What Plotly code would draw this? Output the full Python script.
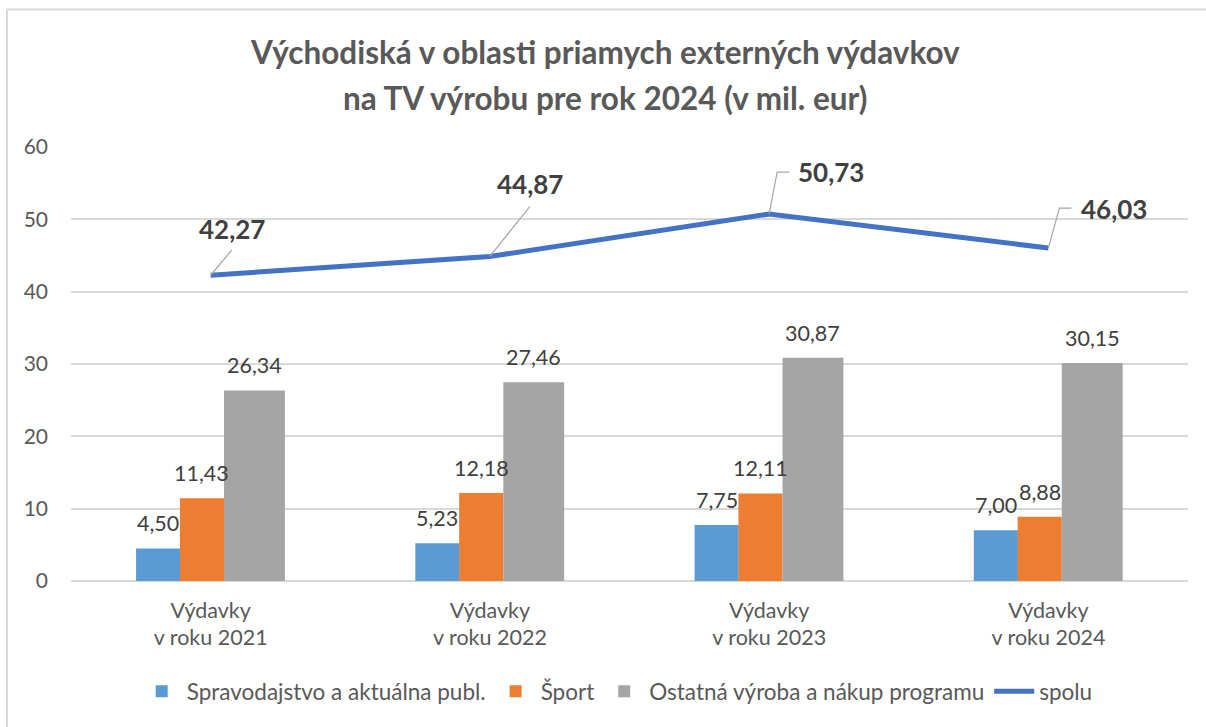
import plotly.graph_objects as go

# ---- data ----
categories = ["Výdavky<br>v roku 2021", "Výdavky<br>v roku 2022",
              "Výdavky<br>v roku 2023", "Výdavky<br>v roku 2024"]
spravodajstvo = [4.50, 5.23, 7.75, 7.00]
sport = [11.43, 12.18, 12.11, 8.88]
ostatna = [26.34, 27.46, 30.87, 30.15]
spolu = [42.27, 44.87, 50.73, 46.03]
y_ticks = [0, 10, 20, 30, 40, 50, 60]

series_names = ["Spravodajstvo a aktuálna publ.", "Šport",
                "Ostatná výroba a nákup programu", "spolu"]
title_lines = ["Východiská v oblasti priamych externých výdavkov",
               "na TV výrobu pre rok 2024 (v mil. eur)"]

# ---- style ----
FONT = "Lato"
C_BLUE, C_ORANGE, C_GREY, C_LINE = "#5B9BD5", "#ED7D31", "#A5A5A5", "#4472C4"
TXT = "#404040"
AX = "#595959"
GRID = "#D9D9D9"

x = list(range(len(categories)))
bar_specs = [
    (spravodajstvo, series_names[0], C_BLUE, -0.267, 0.158),
    (sport, series_names[1], C_ORANGE, -0.110, 0.158),
    (ostatna, series_names[2], C_GREY, 0.048, 0.218),
]

def fmt(v):
    return f"{v:.2f}".replace(".", ",")

fig = go.Figure()
annotations = []
for vals, name, col, off, w in bar_specs:
    fig.add_trace(go.Bar(x=x, y=vals, name=name, marker_color=col,
                         offset=off, width=w, marker_line_width=0,
                         hoverinfo="y"))
    for i, v in enumerate(vals):
        annotations.append(dict(x=i + off + w / 2, y=v, xref="x", yref="y",
                                text=fmt(v), showarrow=False, yshift=25,
                                yanchor="middle", xanchor="center",
                                font=dict(family=FONT, size=21.5, color=TXT)))

fig.add_trace(go.Scatter(x=x, y=spolu, name=series_names[3], mode="lines",
                         line=dict(color=C_LINE, width=5, shape="linear")))

# label offsets (px) for the total line and leader-line paths
lbl_off = [(21, 46), (40, 72), (62, 42), (66, 39)]
leaders = ["M0,0 L21,25", "M0,0 L40,50", "M0,0 L8,42 L20,42", "M0,0 L11,40 L23,40"]
shapes = []
for i, v in enumerate(spolu):
    dx, dy = lbl_off[i]
    annotations.append(dict(x=i, y=v, xref="x", yref="y", text=f"<b>{fmt(v)}</b>",
                            showarrow=False, xshift=dx, yshift=dy,
                            xanchor="center", yanchor="middle",
                            font=dict(family=FONT, size=26, color=TXT)))
    shapes.append(dict(type="path", xref="x", yref="y", xsizemode="pixel",
                       ysizemode="pixel", xanchor=i, yanchor=v, path=leaders[i],
                       line=dict(color="#A6A6A6", width=1.2), layer="above"))

# titles
annotations.append(dict(x=0.478, y=1.218, xref="paper", yref="paper",
                        text=f"<b>{title_lines[0]}</b>", showarrow=False,
                        xanchor="center", yanchor="middle",
                        font=dict(family=FONT, size=31.5, color=AX)))
annotations.append(dict(x=0.478, y=1.114, xref="paper", yref="paper",
                        text=f"<b>{title_lines[1]}</b>", showarrow=False,
                        xanchor="center", yanchor="middle",
                        font=dict(family=FONT, size=31.5, color=AX)))

# outer frame
shapes.append(dict(type="rect", xref="paper", yref="paper",
                   x0=-0.0573, x1=1.03, y0=-0.36, y1=1.3168,
                   line=dict(color="#D9D9D9", width=2), layer="below"))

fig.update_layout(
    width=1206, height=727,
    margin=dict(l=71, r=18, t=147, b=146),
    paper_bgcolor="white", plot_bgcolor="white",
    barmode="overlay",
    font=dict(family=FONT, color=AX),
    showlegend=True,
    legend=dict(orientation="h", x=0.489, xanchor="center", y=-0.255,
                yanchor="middle", font=dict(family=FONT, size=22.5, color=AX),
                traceorder="normal", itemwidth=40),
    annotations=annotations,
    shapes=shapes,
    xaxis=dict(tickmode="array", tickvals=x, ticktext=categories,
               range=[-0.5, len(categories) - 0.5], showgrid=False,
               showline=False, zeroline=False, ticks="",
               tickfont=dict(family=FONT, size=21.5, color=AX),
               ticklabelstandoff=14),
    yaxis=dict(range=[0, 60], tickvals=y_ticks, showgrid=True, gridcolor=GRID,
               gridwidth=1.5, zeroline=True, zerolinecolor=GRID, zerolinewidth=1.5,
               showline=False, ticks="", ticklabelstandoff=22,
               tickfont=dict(family=FONT, size=21, color=AX)),
)

fig.write_html("out.html", config={"displayModeBar": False},
               post_script="document.body.style.margin='0';document.body.style.overflow='hidden';")
